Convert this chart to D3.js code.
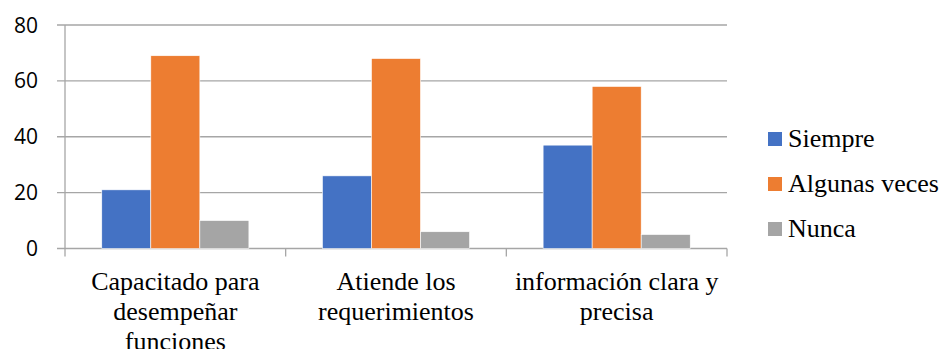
<!DOCTYPE html>
<html>
<head>
<meta charset="utf-8">
<script src="https://cdn.jsdelivr.net/npm/d3@7"></script>
</head>
<body style="margin:0">
<svg id="chart" width="943" height="349"></svg>
<script>
// Category labels (split into lines) and the three response series
const categories = [
  ["Capacitado para", "desempeñar", "funciones"],
  ["Atiende los", "requerimientos"],
  ["información clara y", "precisa"]
];
const seriesNames = ["Siempre", "Algunas veces", "Nunca"];
const siempre = [21, 26, 37];
const algunasVeces = [69, 68, 58];
const nunca = [10, 6, 5];
const yTicks = [0, 20, 40, 60, 80];
const colors = ["#4472C4", "#ED7D31", "#A5A5A5"];

const seriesValues = [siempre, algunasVeces, nunca];
const catKeys = categories.map(c => c.join(" "));

const svg = d3.select("#chart");
const plotLeft = 65, plotRight = 727, plotTop = 25, plotBottom = 248.5;

const x0 = d3.scaleBand().domain(catKeys).range([plotLeft, plotRight]).paddingInner(0).paddingOuter(0);
const x1 = d3.scaleBand().domain(seriesNames).range([0, x0.bandwidth()]).paddingInner(0).paddingOuter(0.75);
const y = d3.scaleLinear().domain([0, 80]).range([plotBottom, plotTop]);

const gridColor = "#a6a6a6";

// Horizontal gridlines with small ticks to the left of the axis
svg.append("g").selectAll("line").data(yTicks).join("line")
  .attr("x1", plotLeft - 8).attr("x2", plotRight)
  .attr("y1", d => y(d)).attr("y2", d => y(d))
  .attr("stroke", gridColor).attr("stroke-width", 1.3);

// Vertical axis line
svg.append("line")
  .attr("x1", plotLeft).attr("x2", plotLeft)
  .attr("y1", y(80)).attr("y2", plotBottom + 8)
  .attr("stroke", gridColor).attr("stroke-width", 1.3);

// Category separator ticks below the baseline
const sepX = catKeys.map(k => x0(k) + x0.bandwidth());
svg.append("g").selectAll("line").data(sepX).join("line")
  .attr("x1", d => d).attr("x2", d => d)
  .attr("y1", plotBottom).attr("y2", plotBottom + 8)
  .attr("stroke", gridColor).attr("stroke-width", 1.3);

// Y tick labels
svg.selectAll("text.ytick").data(yTicks).join("text")
  .attr("class", "ytick")
  .style("font-family", '"Open Sans"').style("font-size", "21px")
  .attr("x", 38).attr("y", d => y(d))
  .attr("dy", "0.36em")
  .attr("text-anchor", "end")
  .text(d => d);

// Bars
const groups = svg.append("g").selectAll("g").data(catKeys).join("g")
  .attr("transform", k => `translate(${x0(k)},0)`);
groups.selectAll("rect")
  .data((k, i) => seriesNames.map((s, j) => ({ s, j, v: seriesValues[j][i] })))
  .join("rect")
  .attr("x", d => x1(d.s))
  .attr("width", x1.bandwidth())
  .attr("y", d => y(d.v))
  .attr("height", d => y(0) - y(d.v))
  .attr("fill", d => colors[d.j])
  .attr("stroke", "#fff").attr("stroke-width", 0.6);

// Category labels, one text per line
const labelLines = [];
categories.forEach((lines, i) => lines.forEach((t, j) => labelLines.push({ i, j, t })));
svg.selectAll("text.cat").data(labelLines).join("text")
  .attr("class", "cat")
  .style("font-family", '"Liberation Serif"').style("font-size", "26px")
  .attr("x", d => x0(catKeys[d.i]) + x0.bandwidth() / 2)
  .attr("y", d => 290 + d.j * 30)
  .attr("text-anchor", "middle")
  .text(d => d.t);

// Legend
svg.selectAll("rect.key").data(seriesNames).join("rect")
  .attr("class", "key")
  .attr("x", 768).attr("y", (d, i) => 132 + i * 45)
  .attr("width", 14).attr("height", 14)
  .attr("fill", (d, i) => colors[i]);
svg.selectAll("text.key").data(seriesNames).join("text")
  .attr("class", "key")
  .style("font-family", '"Liberation Serif"').style("font-size", "26px")
  .attr("x", 788).attr("y", (d, i) => 146.5 + i * 45)
  .text(d => d);
</script>
</body>
</html>
